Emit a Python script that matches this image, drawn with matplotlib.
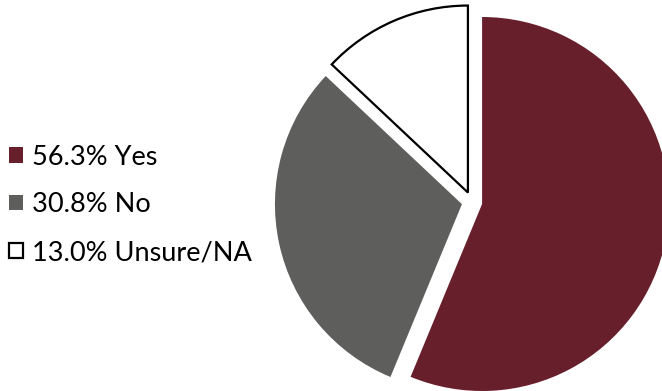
import matplotlib
matplotlib.use('Agg')
import matplotlib.pyplot as plt

# survey answers
labels = ['Yes', 'No', 'Unsure/NA']
shares = [56.3, 30.8, 13.0]
colors = ['#681f2c', '#5e5e5c', '#ffffff']
edges = ['#681f2c', '#5e5e5c', '#000000']

plt.rcParams['font.family'] = ['Lato', 'DejaVu Sans']

fig = plt.figure(figsize=(6.62, 3.91), dpi=100)
ax = fig.add_axes([0, 0, 1, 1])

r_px = 187.0  # pie radius in pixels
cx, cy = 472.0, 189.0  # pie centre, pixels from bottom-left

wedges, _ = ax.pie(shares, colors=colors, startangle=90, counterclock=False,
                   explode=[0.055] * len(shares), radius=1.0, frame=False)
for w, ec in zip(wedges, edges):
    w.set_edgecolor(ec)
    w.set_linewidth(1.6 if ec == '#000000' else 0.0)

ax.set_aspect('equal')
ax.set_xlim(-cx / r_px, (662 - cx) / r_px)
ax.set_ylim(-cy / r_px, (391 - cy) / r_px)
ax.axis('off')

legend_labels = [f'{v:.1f}% {n}' for v, n in zip(shares, labels)]
fig.legend(wedges, legend_labels, loc='center left', bbox_to_anchor=(0.014, 0.476),
           frameon=False, prop={'size': 19.5},
           handlelength=0.5, handleheight=0.5, handletextpad=0.35,
           labelspacing=0.84, borderaxespad=0.0, borderpad=0.0)

fig.savefig('out.png', dpi=100)
